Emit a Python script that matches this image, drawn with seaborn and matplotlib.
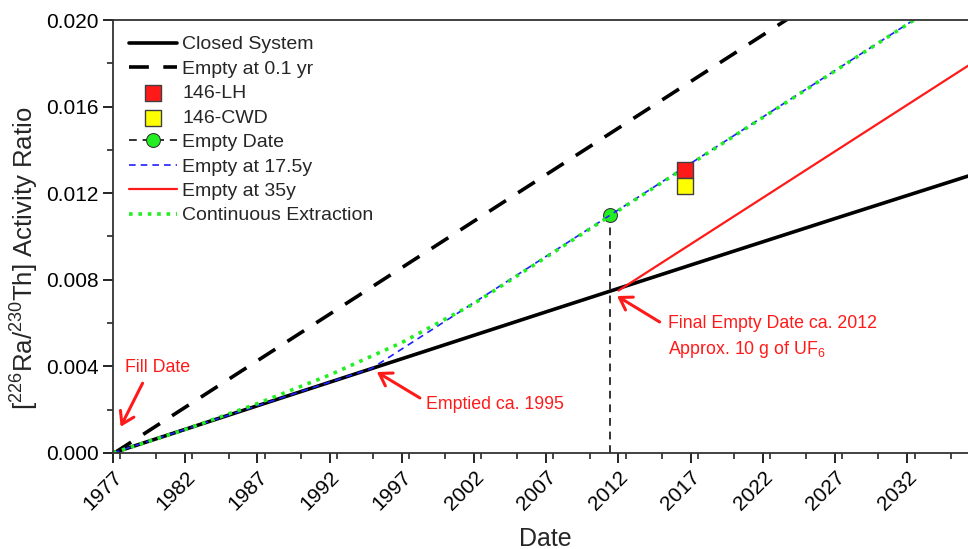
import seaborn as sns
import pandas as pd
import matplotlib.pyplot as plt
import matplotlib.transforms as mtransforms
from matplotlib.ticker import MultipleLocator, FormatStrFormatter

# values (year, activity ratio)
closed_x = [1977.0, 1987.0, 1997.0, 2007.0, 2017.0, 2027.0, 2037.0]
closed_y = [0.0, 0.00218, 0.00435, 0.00652, 0.00868, 0.01083, 0.01296]

empty01_x = [1977.1, 1987.0, 1997.0, 2007.0, 2017.0, 2027.0, 2037.0]
empty01_y = [0.0, 0.00426, 0.00856, 0.01286, 0.01716, 0.02146, 0.02576]

lh_x, lh_y = [2016.6], [0.01307]
cwd_x, cwd_y = [2016.6], [0.01235]

empty_date_x = [2011.4, 2011.4]
empty_date_y = [0.0, 0.0110]

e175_x = [1977.0, 1987.0, 1994.9, 2005.0, 2015.0, 2025.0, 2037.0]
e175_y = [0.0, 0.00218, 0.0039, 0.00823, 0.01252, 0.01681, 0.02196]

e35_x = [2012.0, 2022.0, 2037.0]
e35_y = [0.0075, 0.01179, 0.01823]

cont_x = [1977.0, 1982.0, 1987.0, 1992.0, 1997.0, 2002.0, 2007.0,
          2012.0, 2017.0, 2022.0, 2027.0, 2032.0, 2037.0]
cont_y = [0.0, 0.00108, 0.00228, 0.0036, 0.0051, 0.0069, 0.00905,
          0.0112, 0.01335, 0.0155, 0.01765, 0.0198, 0.02195]

year_ticks = [1977, 1982, 1987, 1992, 1997, 2002, 2007, 2012, 2017, 2022, 2027, 2032]

sns.set_theme(style="ticks")
plt.rcParams["font.family"] = ["Liberation Sans", "DejaVu Sans"]
plt.rcParams["mathtext.fontset"] = "custom"
plt.rcParams["mathtext.rm"] = "Liberation Sans"
plt.rcParams["mathtext.it"] = "Liberation Sans:italic"
plt.rcParams["mathtext.default"] = "regular"

fig = plt.figure(figsize=(9.68, 5.49), dpi=100)
ax = fig.add_axes([0.1167, 0.175, 0.8833, 0.7885])

kw = dict(ax=ax, estimator=None, sort=False)
sns.lineplot(x=closed_x, y=closed_y, color="black", linewidth=2.6, label="Closed System", **kw)
sns.lineplot(x=empty01_x, y=empty01_y, color="black", linewidth=2.6,
             dashes=False, label="Empty at 0.1 yr", **kw)
ax.lines[-1].set_dashes((5.5, 4))
sns.lineplot(x=empty_date_x, y=empty_date_y, color="#333333", linewidth=1.4,
             marker="o", markersize=10, markerfacecolor="#22ee22",
             markeredgecolor="#333333", label="Empty Date", **kw)
ax.lines[-1].set_dashes((4, 3))
ax.lines[-1].set_markevery([1])
sns.lineplot(x=e175_x, y=e175_y, color="#2020ff", linewidth=1.2, label="Empty at 17.5y", **kw)
ax.lines[-1].set_dashes((4, 3))
sns.lineplot(x=e35_x, y=e35_y, color="#ff1a1a", linewidth=1.6, label="Empty at 35y", **kw)
sns.lineplot(x=cont_x, y=cont_y, color="#22ee22", linewidth=2.6, label="Continuous Extraction", **kw)
ax.lines[-1].set_dashes((1, 1.6))

sns.scatterplot(x=lh_x, y=lh_y, marker="s", s=130, color="#ff1a1a",
                edgecolor="#404040", linewidth=1, label="146-LH", ax=ax, zorder=5)
sns.scatterplot(x=cwd_x, y=cwd_y, marker="s", s=130, color="#ffff00",
                edgecolor="#404040", linewidth=1, label="146-CWD", ax=ax, zorder=5)

handles, labels = ax.get_legend_handles_labels()
order = ["Closed System", "Empty at 0.1 yr", "146-LH", "146-CWD", "Empty Date",
         "Empty at 17.5y", "Empty at 35y", "Continuous Extraction"]
hmap = dict(zip(labels, handles))
ax.legend([hmap[k] for k in order], order, loc="upper left", frameon=False,
          fontsize=14, handlelength=2.45, handletextpad=0.28, labelspacing=0.35,
          borderaxespad=0.0, borderpad=0.3, bbox_to_anchor=(0.012, 0.977))

# annotations
red = "#ff1a1a"
ap = dict(arrowstyle="->,head_length=0.7,head_width=0.45", color=red, lw=2.2,
          shrinkA=0, shrinkB=0)
ax.text(1977.83, 0.00393, "Fill Date", color=red, fontsize=12.8, ha="left", va="center")
ax.annotate("", xy=(1977.53, 0.00121), xytext=(1979.05, 0.00322), arrowprops=ap)
ax.text(1998.7, 0.00226, "Emptied ca. 1995", color=red, fontsize=12.8,
        ha="left", va="center")
ax.annotate("", xy=(1995.27, 0.00374), xytext=(1998.25, 0.00254), arrowprops=ap)
ax.text(2015.4, 0.00533, "Final Empty Date ca. 2012\nApprox. 10 g of UF$_6$",
        color=red, fontsize=12.8, ha="left", va="center", linespacing=1.45)
ax.annotate("", xy=(2011.9, 0.00725), xytext=(2014.85, 0.00605), arrowprops=ap)

ax.set_xlim(1977, 2036.2)
ax.set_ylim(0, 0.020)
ax.set_xticks(year_ticks)
ax.set_xticklabels([str(y) for y in year_ticks], rotation=45, ha="right",
                   rotation_mode="anchor")
shift = mtransforms.ScaledTranslation(12 / 100, 0, fig.dpi_scale_trans)
for lab in ax.get_xticklabels():
    lab.set_transform(lab.get_transform() + shift)
ax.xaxis.set_minor_locator(MultipleLocator(2.5))
ax.yaxis.set_major_locator(MultipleLocator(0.004))
ax.yaxis.set_minor_locator(MultipleLocator(0.002))
ax.yaxis.set_major_formatter(FormatStrFormatter("%.3f"))
ax.tick_params(axis="both", which="major", direction="out", length=7, width=1.2,
               labelsize=15, colors="black")
ax.tick_params(axis="both", which="minor", direction="out", length=4, width=1.2)
ax.set_xlabel("Date", fontsize=18)
ax.set_ylabel(r"[$^{226}$Ra/$^{230}$Th] Activity Ratio", fontsize=18.5)
ax.xaxis.set_label_coords(0.506, -0.17)
ax.yaxis.set_label_coords(-0.084, 0.45)

for s in ["left", "bottom", "top"]:
    ax.spines[s].set_color("#333333")
    ax.spines[s].set_linewidth(1.3)
ax.spines["right"].set_visible(False)

plt.savefig("out.png", dpi=100)
